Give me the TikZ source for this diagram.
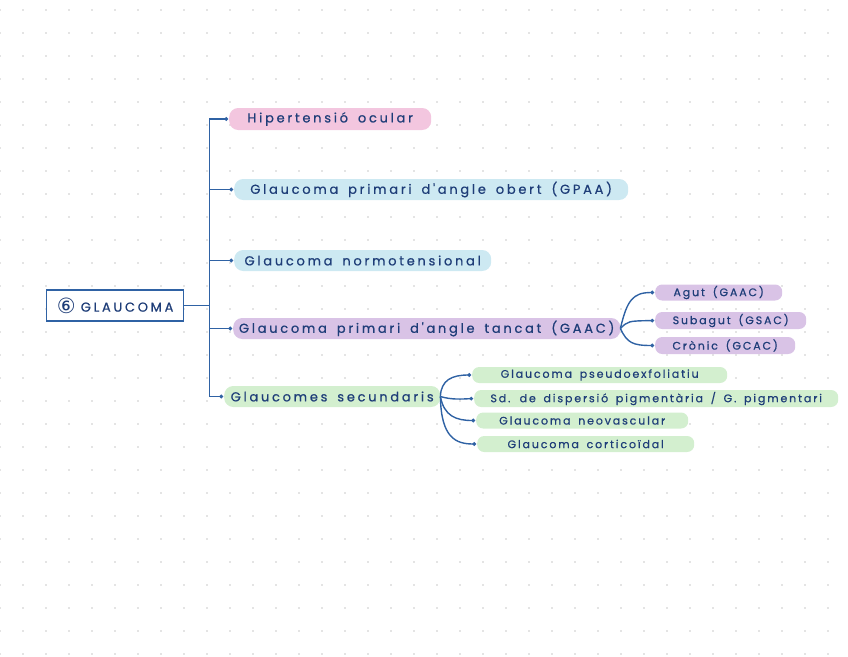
\documentclass[tikz,border=0pt]{standalone}
\usepackage{fontspec}
\setmainfont{Poppins}
\newfontfamily\symfont{DejaVu Sans}
\newfontfamily\handfont[LetterSpace=21,WordSpace=1.6,FakeBold=0.6]{Poppins}
\newfontfamily\subhandfont[LetterSpace=17,WordSpace=1.6,FakeBold=0.6]{Poppins}
\usetikzlibrary{arrows.meta}
\definecolor{inkc}{HTML}{1E3D78}
\definecolor{linec}{HTML}{2F62A4}
\definecolor{pinkc}{HTML}{F3C6DF}
\definecolor{bluec}{HTML}{CDE9F2}
\definecolor{purplec}{HTML}{D9C3E6}
\definecolor{greenc}{HTML}{D3EFCF}
\definecolor{dotc}{HTML}{E4E4E4}
\tikzset{
  pill/.style={anchor=west, rounded corners=9pt, inner sep=0pt, text=inkc,
    font=\handfont\fontsize{13}{14}\selectfont},
  subpill/.style={pill, rounded corners=7pt, font=\subhandfont\fontsize{11}{12}\selectfont},
  rootbox/.style={draw=linec, line width=1.4pt, fill=white, anchor=west, inner sep=0pt,
    text=inkc, font=\handfont\fontsize{13}{14}\selectfont},
  conn/.style={draw=linec, line width=1.4pt, -{Circle[length=3.5pt]}, shorten >=1pt},
}
\begin{document}
\begin{tikzpicture}[x=1pt,y=-1pt]
\useasboundingbox (0,0) rectangle (848,656);
\foreach \i in {0,...,37}{\foreach \j in {0,...,28}{
  \fill[dotc] ({\i*23-1},{10+\j*23-1}) rectangle ++(2,2);}}
% root
\node[rootbox, minimum width=137pt, minimum height=31pt] (root) at (46,305.5)
  {\raisebox{-1.5pt}{\symfont\fontsize{21}{21}\selectfont ⑥}\hspace{5pt}GLAUCOMA};
% main branches
\node[pill, fill=pinkc, minimum width=202pt, minimum height=22pt] (hip) at (229,119) {Hipertensió ocular};
\node[pill, fill=bluec, minimum width=394pt, minimum height=21pt] (gpaa) at (234,189.5) {Glaucoma primari d'angle obert (GPAA)};
\node[pill, fill=bluec, minimum width=257pt, minimum height=21pt] (norm) at (234,260.5) {Glaucoma normotensional};
\node[pill, fill=purplec, minimum width=387pt, minimum height=21pt] (gaac) at (233,328.5) {Glaucoma primari d'angle tancat (GAAC)};
\node[pill, fill=greenc, minimum width=216pt, minimum height=21pt] (sec) at (224,396.5) {Glaucomes secundaris};
% GAAC subs
\node[subpill, fill=purplec, minimum width=127pt, minimum height=16pt] (agut) at (655,292.5) {Agut (GAAC)};
\node[subpill, fill=purplec, minimum width=151pt, minimum height=17pt] (subagut) at (655,320.5) {Subagut (GSAC)};
\node[subpill, fill=purplec, minimum width=140pt, minimum height=17pt] (cronic) at (655,345.5) {Crònic (GCAC)};
% secondary subs
\node[subpill, fill=greenc, minimum width=255pt, minimum height=16pt] (pseudo) at (472,375) {Glaucoma pseudoexfoliatiu};
\node[subpill, fill=greenc, minimum width=364pt, minimum height=17pt] (sd) at (474,398.5) {Sd. de dispersió pigmentària / G. pigmentari};
\node[subpill, fill=greenc, minimum width=212pt, minimum height=16pt] (neo) at (476,420.5) {Glaucoma neovascular};
\node[subpill, fill=greenc, minimum width=217pt, minimum height=16pt] (cort) at (477,444) {Glaucoma corticoïdal};
% trunk connectors
\foreach \n in {hip,gpaa,norm,gaac,sec}{
  \draw[conn] (root.east) -- ++(25,0) |- (\n.west);}
% GAAC bracket
\draw[conn] (gaac.east) .. controls (627,300) and (633,292.5) .. (agut.west);
\draw[conn] (gaac.east) .. controls (628,321) .. (subagut.west);
\draw[conn] (gaac.east) .. controls (627,343) and (633,345.5) .. (cronic.west);
% secondary bracket
\draw[conn] (sec.east) .. controls (441,380) and (452,375) .. (pseudo.west);
\draw[conn] (sec.east) .. controls (452,400) and (462,399) .. (sd.west);
\draw[conn] (sec.east) .. controls (444,416) and (456,420.5) .. (neo.west);
\draw[conn] (sec.east) .. controls (441,438) and (456,444) .. (cort.west);
\end{tikzpicture}
\end{document}
